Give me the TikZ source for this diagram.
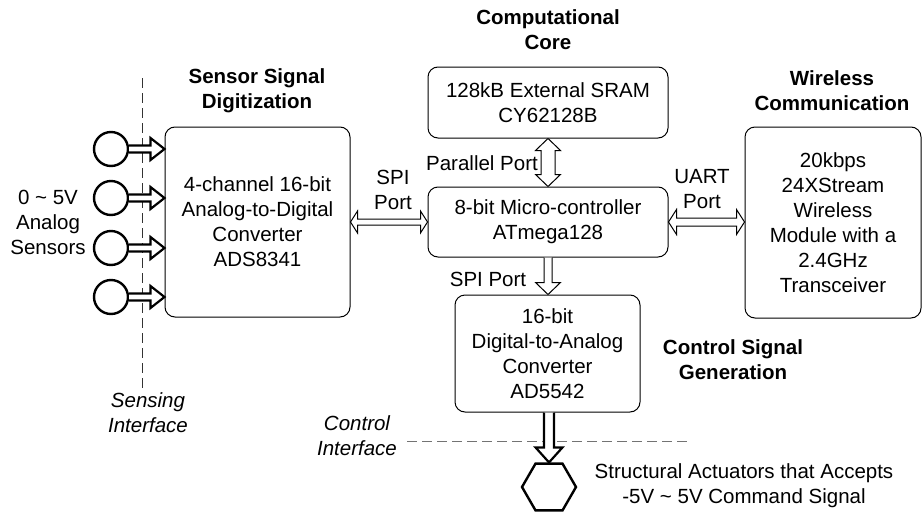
\documentclass[tikz,border=0pt]{standalone}
\usepackage{fontspec}
\setmainfont{Liberation Sans}
\usetikzlibrary{calc,shapes.geometric}
\tikzset{
 txt/.style={font=\fontsize{20.5}{25}\selectfont, align=center, inner sep=0pt},
 ttl/.style={font=\bfseries\fontsize{20.5}{25}\selectfont, align=center, inner sep=0pt},
 itl/.style={font=\itshape\fontsize{20.5}{25}\selectfont, align=center, inner sep=0pt},
 box/.style={txt, draw, line width=1pt, rounded corners=10pt},
 sensor/.style={circle, draw, line width=2.4pt, minimum size=34pt, inner sep=0pt},
 actuator/.style={regular polygon, regular polygon sides=6, draw, line width=2.4pt, minimum size=54pt, inner sep=0pt},
 thinarrow/.style={draw, line width=1pt, fill=white, line join=miter},
 thickarrow/.style={draw, line width=2.2pt, fill=white, line join=miter},
 ifline/.style={dashed, dash pattern=on 10pt off 5pt, line width=1pt},
}
% single arrow pointing right: style, start, tip, shaft half, head half, head length
\newcommand\sarrR[6]{\draw[#1] ($(#2)+(0,-#4)$) -- ($(#3)+(-#6,-#4)$) -- ($(#3)+(-#6,-#5)$) -- (#3) -- ($(#3)+(-#6,#5)$) -- ($(#3)+(-#6,#4)$) -- ($(#2)+(0,#4)$);}
% single arrow pointing down
\newcommand\sarrD[6]{\draw[#1] ($(#2)+(-#4,0)$) -- ($(#3)+(-#4,-#6)$) -- ($(#3)+(-#5,-#6)$) -- (#3) -- ($(#3)+(#5,-#6)$) -- ($(#3)+(#4,-#6)$) -- ($(#2)+(#4,0)$);}
% double horizontal arrow: left tip, right tip
\newcommand\darrH[6]{\draw[#1] (#2) -- ($(#2)+(#6,-#5)$) -- ($(#2)+(#6,-#4)$) -- ($(#3)+(-#6,-#4)$) -- ($(#3)+(-#6,-#5)$) -- (#3) -- ($(#3)+(-#6,#5)$) -- ($(#3)+(-#6,#4)$) -- ($(#2)+(#6,#4)$) -- ($(#2)+(#6,#5)$) -- cycle;}
% double vertical arrow: top tip, bottom tip
\newcommand\darrV[6]{\draw[#1] (#2) -- ($(#2)+(-#5,#6)$) -- ($(#2)+(-#4,#6)$) -- ($(#3)+(-#4,-#6)$) -- ($(#3)+(-#5,-#6)$) -- (#3) -- ($(#3)+(#5,-#6)$) -- ($(#3)+(#4,-#6)$) -- ($(#2)+(#4,#6)$) -- ($(#2)+(#5,#6)$) -- cycle;}
\begin{document}
\begin{tikzpicture}[x=1pt,y=-1pt]
\useasboundingbox (0,0) rectangle (923,514);

% boxes
\node[box, minimum width=185pt, minimum height=190pt] (adc) at (257.5,222) {4-channel 16-bit\\Analog-to-Digital\\Converter\\ADS8341};
\node[box, minimum width=240pt, minimum height=71pt] (sram) at (548,102.5) {128kB External SRAM\\CY62128B};
\node[box, minimum width=240pt, minimum height=70pt] (mcu) at (548,222) {8-bit Micro-controller\\ATmega128};
\node[box, minimum width=185pt, minimum height=117pt] (dac) at (547.5,353.5) {16-bit\\Digital-to-Analog\\Converter\\AD5542};
\node[box, minimum width=176pt, minimum height=191pt] (wl) at (833,222.5) {20kbps\\24XStream\\Wireless\\Module with a\\2.4GHz\\Transceiver};

% sensors and actuator
\node[sensor] (c1) at (111,149) {};
\node[sensor] (c2) at (111,198) {};
\node[sensor] (c3) at (111,248) {};
\node[sensor] (c4) at (111,297) {};
\node[actuator] (hex) at (549,487) {};

% titles and labels
\node[ttl] (t1) at (257,90.5) {Sensor Signal\\Digitization};
\node[ttl] (t2) at (548,30) {Computational\\Core};
\node[ttl] (t3) at (832,90.5) {Wireless\\Communication};
\node[ttl] (t4) at (733,360) {Control Signal\\Generation};
\node[itl] (l1) at (148,412.5) {Sensing\\Interface};
\node[itl] (l2) at (357,435.5) {Control\\Interface};
\node[txt] (l3) at (48,222) {0 \textasciitilde{} 5V\\Analog\\Sensors};
\node[txt] (l4) at (393,189.5) {SPI\\Port};
\node[txt] (l5) at (702,189) {UART\\Port};
\node[txt] (l6) at (482,163) {Parallel Port};
\node[txt] (l7) at (488,279) {SPI Port};
\node[txt] (l8) at (744,486) {Structural Actuators that Accepts\\-5V \textasciitilde{} 5V Command Signal};

% interface lines
\coordinate (sv1) at (142,78);
\coordinate (sv2) at (142,388);
\coordinate (ch1) at (407,441);
\coordinate (ch2) at (688,441);
\draw[ifline, black!80] (sv1) -- (sv2);
\draw[ifline, black!55] (ch1) -- (ch2);

% sensor arrows
\foreach \i in {1,2,3,4}{
  \coordinate (a\i) at (adc.west |- c\i.east);
  \sarrR{thickarrow}{c\i.east}{a\i}{3.5}{11}{14}
}
% SPI adc-mcu
\coordinate (spiR) at (mcu.west |- adc.east);
\darrH{thinarrow}{adc.east}{spiR}{3}{11}{7}
% UART mcu-wireless
\coordinate (uartR) at (wl.west |- mcu.east);
\darrH{thinarrow}{mcu.east}{uartR}{4}{12.5}{8}
% Parallel sram-mcu
\darrV{thinarrow}{sram.south}{mcu.north}{7}{12.5}{12}
% SPI mcu-dac
\coordinate (spiD) at (mcu.south |- dac.north);
\sarrD{thinarrow}{mcu.south}{spiD}{4}{12.5}{12}
% DAC - actuator
\coordinate (dacS) at (dac.south -| hex.north);
\sarrD{thickarrow}{dacS}{hex.north}{5}{13.5}{15}
\end{tikzpicture}
\end{document}
